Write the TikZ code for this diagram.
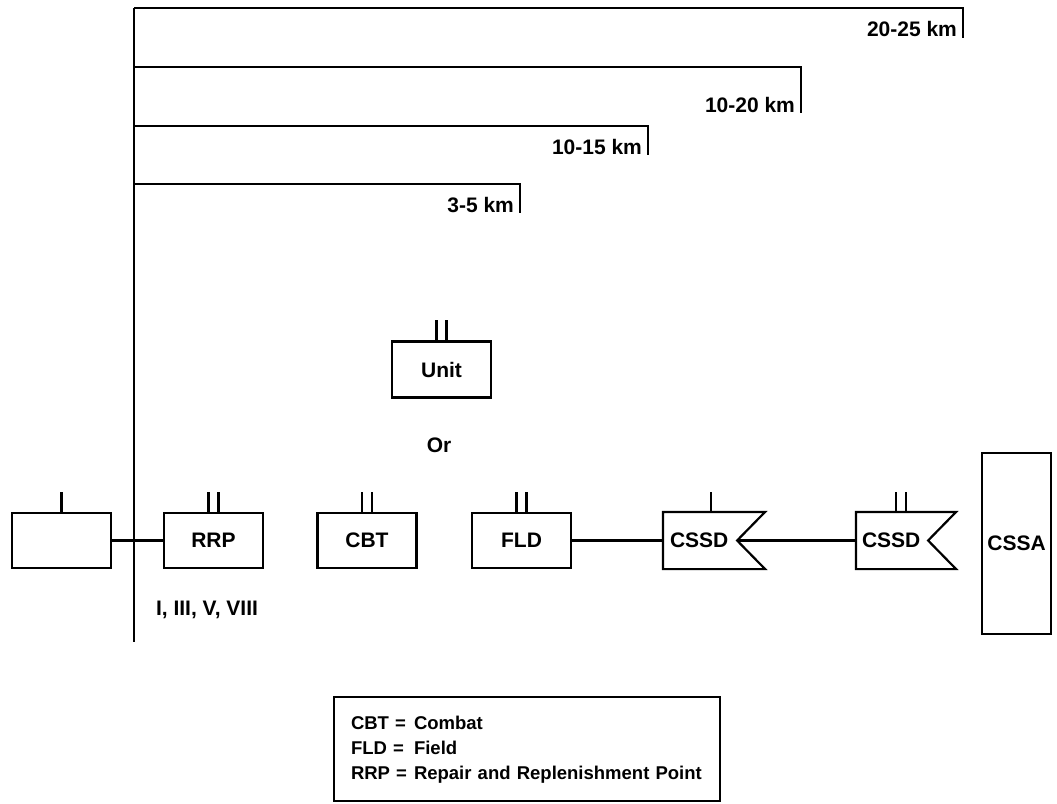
\documentclass[tikz,border=0pt]{standalone}
\usepackage{fontspec}
\setmainfont{Liberation Sans}
\usepackage{tikz}
\usetikzlibrary{calc,positioning}

\tikzset{
  unitbox/.style={draw, minimum width=99pt, minimum height=55pt, inner sep=0pt,
    font=\fontsize{21}{24}\selectfont\bfseries},
  lbl/.style={inner sep=0pt, font=\fontsize{21}{24}\selectfont\bfseries},
  keybox/.style={draw, inner xsep=17pt, inner ysep=0pt, minimum height=104pt,
    text width=352pt, align=left, font=\fontsize{18.5}{25}\selectfont\bfseries},
}

\begin{document}
\begin{tikzpicture}[x=1pt, y=-1pt, line width=2.2pt]
  \useasboundingbox (0,0) rectangle (1057,803);
  % Main vertical line
  \coordinate (top) at (134,8);
  \coordinate (base) at (134,642);
  \draw (top) -- (base);
  % Range brackets
  \coordinate (rA) at (963,38);
  \draw (top) -| (rA);
  \node[lbl, anchor=base east] (kmA) at ($(rA)+(-5,-2)$) {20-25 km};
  \coordinate (rBs) at (134,67);
  \coordinate (rB) at (801,113);
  \draw (rBs) -| (rB);
  \node[lbl, anchor=base east] (kmB) at ($(rB)+(-5,-1)$) {10-20 km};
  \coordinate (rCs) at (134,126);
  \coordinate (rC) at (648,155);
  \draw (rCs) -| (rC);
  \node[lbl, anchor=base east] (kmC) at ($(rC)+(-5,-1)$) {10-15 km};
  \coordinate (rDs) at (134,184);
  \coordinate (rD) at (520,213);
  \draw (rDs) -| (rD);
  \node[lbl, anchor=base east] (kmD) at ($(rD)+(-5,-1)$) {3-5 km};
  % Unit
  \node[unitbox, minimum height=56pt] (unit) at (441.5,369.5) {Unit};
  \draw ($(unit.north)+(-5,0)$) -- ++(0,-20);
  \draw ($(unit.north)+(5,0)$) -- ++(0,-20);
  \node[lbl] (or) at (439,445) {Or};
  % Row of units
  \node[unitbox] (left) at (61.5,540.5) {};
  \draw (left.north) -- ++(0,-20);
  \node[unitbox] (rrp) at (213.5,540.5) {RRP};
  \draw ($(rrp.north)+(-5,0)$) -- ++(0,-20);
  \draw ($(rrp.north)+(5,0)$) -- ++(0,-20);
  \node[lbl] (classes) at (207,610) {I, III, V, VIII};
  \node[unitbox] (cbt) at (367,540.5) {CBT};
  \draw ($(cbt.north)+(-5,0)$) -- ++(0,-20);
  \draw ($(cbt.north)+(5,0)$) -- ++(0,-20);
  \node[unitbox] (fld) at (521.5,540.5) {FLD};
  \draw ($(fld.north)+(-5,0)$) -- ++(0,-20);
  \draw ($(fld.north)+(5,0)$) -- ++(0,-20);
  % CSSD flags
  \node[unitbox, draw=none, minimum width=100pt] (cssdA) at (714,540.5) {};
  \draw (cssdA.north west) -- (cssdA.north east)
    -- ($(cssdA.east)+(-28,0)$) coordinate (cssdAn)
    -- (cssdA.south east) -- (cssdA.south west) -- cycle;
  \node[lbl, anchor=west] (cssdAt) at ($(cssdA.west)+(6,0)$) {CSSD};
  \draw ($(cssdA.north)+(-3,0)$) -- ++(0,-20);
  \node[unitbox, draw=none, minimum width=98pt] (cssdB) at (906,540.5) {};
  \draw (cssdB.north west) -- (cssdB.north east)
    -- ($(cssdB.east)+(-28,0)$) coordinate (cssdBn)
    -- (cssdB.south east) -- (cssdB.south west) -- cycle;
  \node[lbl, anchor=west] (cssdBt) at ($(cssdB.west)+(5,0)$) {CSSD};
  \draw ($(cssdB.north)+(-10,0)$) -- ++(0,-20);
  \draw (cssdB.north) -- ++(0,-20);
  % CSSA
  \node[unitbox, minimum width=69pt, minimum height=181pt] (cssa) at (1016.5,543.5) {CSSA};
  % Connectors
  \draw (left.east) -- (rrp.west);
  \draw (fld.east) -- (cssdA.west);
  \draw (cssdAn) -- (cssdB.west);
  % Key
  \node[keybox] (key) at (527,749) {%
    \begin{tabular}{@{}l@{\hspace{7pt}}l@{}}
      CBT = & Combat\\
      FLD = & Field\\
      RRP = & Repair and Replenishment Point
    \end{tabular}};
\end{tikzpicture}
\end{document}
